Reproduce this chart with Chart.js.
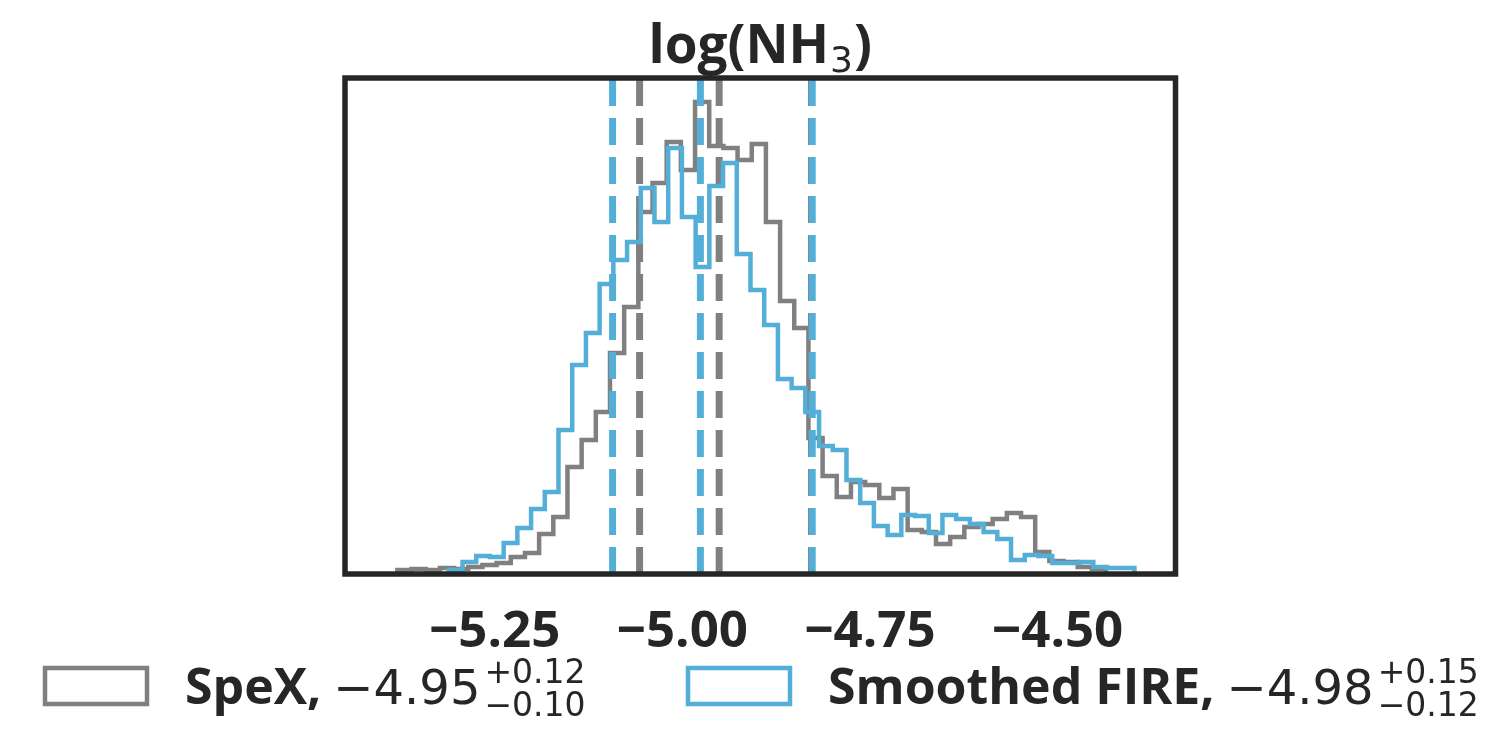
<!DOCTYPE html>
<html>
<head>
<meta charset="utf-8">
<script src="https://cdn.jsdelivr.net/npm/chart.js@4"></script>
<style>
  html, body { margin: 0; background: #fff; }
</style>
</head>
<body>
<canvas id="chart" width="1512" height="735"></canvas>
<script>
// posterior samples of log(NH3), 50 equal bins over each sample's range
const spexRange = [-5.3797, -4.4355];
const spexCounts = [4, 5, 4, 6, 5, 7, 9, 11, 17, 21,
  40, 57, 107, 134, 162, 221, 267, 362, 391, 432,
  404, 472, 428, 426, 414, 430, 352, 273, 246, 136,
  98, 77, 92, 89, 76, 85, 44, 42, 30, 37,
  47, 50, 55, 61, 57, 22, 13, 12, 7, 5];

const fireRange = [-5.3112, -4.3977];
const fireCounts = [4, 12, 18, 17, 31, 46, 65, 82, 144, 209,
  241, 290, 314, 332, 386, 352, 426, 357, 307, 388,
  411, 320, 284, 249, 195, 186, 162, 128, 124, 94,
  71, 48, 39, 59, 58, 41, 59, 55, 50, 42,
  35, 14, 19, 18, 11, 11, 12, 7, 6, 6];

// 16th, 50th, 84th percentiles
const spexQuantiles = [-5.057, -4.951, -4.828];
const fireQuantiles = [-5.093, -4.976, -4.827];

const tickValues = [-5.25, -5.00, -4.75, -4.50];
const xLimits = [-5.4495, -4.343];
const yMax = 496;

const legendNames = ['SpeX,', 'Smoothed FIRE,'];
const legendValues = ['−4.95', '−4.98'];
const legendUpper = ['+0.12', '+0.15'];
const legendLower = ['−0.10', '−0.12'];

const GRAY = '#808080';
const BLUE = '#53afd7';
const DARK = '#262626';

// outline of a step histogram, like histtype='step'
function stepPoints(range, counts) {
  const w = (range[1] - range[0]) / counts.length;
  const pts = [{ x: range[0], y: 0 }];
  counts.forEach((c, i) => pts.push({ x: range[0] + (i + 1) * w, y: c }));
  pts.push({ x: range[1], y: 0 });
  return pts;
}

function quantileLines(qs, color, order) {
  return qs.map(q => ({
    data: [{ x: q, y: 0 }, { x: q, y: yMax }],
    borderColor: color,
    borderWidth: 7,
    borderDash: [27, 12],
    pointRadius: 0,
    showLine: true,
    order: order
  }));
}

const datasets = [
  {
    label: 'SpeX',
    data: stepPoints(spexRange, spexCounts),
    borderColor: GRAY,
    borderWidth: 4.5,
    stepped: 'after',
    pointRadius: 0,
    showLine: true,
    order: 4
  },
  ...quantileLines(spexQuantiles, GRAY, 3),
  {
    label: 'Smoothed FIRE',
    data: stepPoints(fireRange, fireCounts),
    borderColor: BLUE,
    borderWidth: 4.5,
    stepped: 'after',
    pointRadius: 0,
    showLine: true,
    order: 2
  },
  ...quantileLines(fireQuantiles, BLUE, 1)
];

// frame around the plot area
const framePlugin = {
  id: 'frame',
  afterDatasetsDraw(chart) {
    const a = chart.chartArea;
    const ctx = chart.ctx;
    ctx.save();
    ctx.strokeStyle = DARK;
    ctx.lineWidth = 5.5;
    ctx.strokeRect(a.left, a.top, a.right - a.left, a.bottom - a.top);
    ctx.restore();
  }
};

// title with subscript and legend with super/subscripts
const textPlugin = {
  id: 'texts',
  afterDraw(chart) {
    const ctx = chart.ctx;
    const a = chart.chartArea;
    ctx.save();
    ctx.fillStyle = DARK;
    ctx.textBaseline = 'alphabetic';
    ctx.textAlign = 'left';

    // title: log(NH3)
    const bold = 'bold 53px "Open Sans"';
    const sub = '36px "DejaVu Sans"';
    ctx.font = bold;
    const w1 = ctx.measureText('log(NH').width;
    const w3 = ctx.measureText(')').width;
    ctx.font = sub;
    const w2 = ctx.measureText('3').width;
    let x = (a.left + a.right) / 2 - (w1 + w2 + w3 + 2) / 2;
    ctx.font = bold;
    ctx.fillText('log(NH', x, 63);
    ctx.font = sub;
    ctx.fillText('3', x + w1 + 1, 72);
    ctx.font = bold;
    ctx.fillText(')', x + w1 + w2 + 2, 63);

    // legend
    const boxX = [45, 688];
    const colors = [GRAY, BLUE];
    for (let i = 0; i < legendNames.length; i++) {
      ctx.strokeStyle = colors[i];
      ctx.lineWidth = 4.5;
      ctx.strokeRect(boxX[i], 668, 102, 36);

      let tx = boxX[i] + 140;
      ctx.font = 'bold 50px "Open Sans"';
      ctx.fillText(legendNames[i], tx, 704);
      tx += ctx.measureText(legendNames[i]).width + 12;
      ctx.font = '48px "DejaVu Sans"';
      ctx.fillText(legendValues[i], tx, 704);
      tx += ctx.measureText(legendValues[i]).width + 4;
      ctx.font = '33px "DejaVu Sans"';
      ctx.fillText(legendUpper[i], tx, 683);
      ctx.fillText(legendLower[i], tx, 716);
    }
    ctx.restore();
  }
};

new Chart(document.getElementById('chart'), {
  type: 'scatter',
  data: { datasets: datasets },
  options: {
    responsive: false,
    animation: false,
    devicePixelRatio: 1,
    layout: { padding: { left: 345, right: 336.5, top: 78, bottom: 0 } },
    plugins: {
      legend: { display: false },
      tooltip: { enabled: false },
      title: { display: false }
    },
    scales: {
      x: {
        type: 'linear',
        min: xLimits[0],
        max: xLimits[1],
        afterBuildTicks: axis => { axis.ticks = tickValues.map(v => ({ value: v })); },
        afterFit: axis => { axis.height = 161; },
        grid: { display: false, drawTicks: false },
        border: { display: false },
        ticks: {
          padding: 28,
          color: DARK,
          font: { family: 'Open Sans', weight: 'bold', size: 51 },
          callback: v => (v < 0 ? '−' : '') + Math.abs(v).toFixed(2)
        }
      },
      y: {
        display: false,
        min: 0,
        max: yMax
      }
    }
  },
  plugins: [framePlugin, textPlugin]
});
</script>
</body>
</html>
